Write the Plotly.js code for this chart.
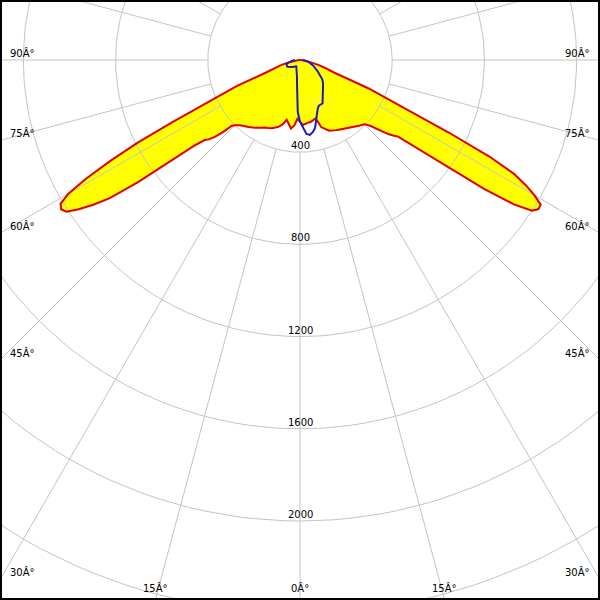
<!DOCTYPE html>
<html><head><meta charset="utf-8">
<script src="https://cdn.plot.ly/plotly-3.0.1.min.js"></script>
<style>html,body{margin:0;padding:0;background:#fff}#chart{width:600px;height:600px}</style>
</head><body><div id="chart"></div>
<script>
// gamma angles (degrees from nadir), one half-plane each
const gammaDeg = [0,2.5,5,7.5,10,12.5,15,17.5,20,22.5,25,27.5,30,32.5,35,37.5,40,42.5,45,
                  46,47,48,49,50,51,52,53,54,55,56,57,58,59,60,61,62,63,64,65,66,
                  67.5,70,72.5,75,77.5,80,82.5,85,87.5,90];
// red plane (yellow filled): left half and right half, cd
const redLeft  = [268,255,285,300,282,266,288,303,312,320,325,330,340,350,358,366,375,384,400,
                  410,460,500,525,540,590,720,880,1020,1095,1158,1208,1222,1212,1160,1060,930,790,620,470,380,
                  300,152,115,85,58,35,20,10,5,0];
const redRight = [268,282,278,274,272,268,262,305,318,332,338,343,348,353,358,365,375,385,395,
                  405,420,440,470,500,520,540,640,760,975,1120,1200,1220,1218,1175,1120,1050,920,720,540,420,
                  320,152,115,85,58,35,20,10,5,0];
// blue plane: left half and right half, cd
const blueLeft  = [268,225,150,100,75,60,50,44,40,37,35,33,32,32,33,35,37,40,43,
                   44,45,46,47,49,50,51,52,53,55,56,57,58,59,60,61,62,62,63,63,63,
                   64,64,62,58,52,45,38,32,27,22];
const blueRight = [268,292,322,328,318,302,272,245,225,214,213,212,200,186,174,164,155,148,141,
                   138,135,131,128,124,119,114,109,104,100,96,92,88,84,81,78,75,72,70,67,64,
                   61,55,49,42,36,30,24,19,15,12];
// grid
const ringValues = [400,800,1200,1600,2000,2400,2800];
const ringLabels = ['400','800','1200','1600','2000'];
const spokeAngles = [0,15,30,45,60,75,90,105,120,135,150,165,180,195,210,225,240,255,270,285,300,315,330,345];
const sideLabelAngles = [90,75,60,45,30];
const bottomLabelAngles = [15,0,-15];
const degSuffix = 'Â°';

const PX = 0.2305;              // pixels per cd
const XH = 300/PX, YT = 60/PX, YB = -540/PX;
const rad = d => d*Math.PI/180;

function planeXY(left, right){
  const x=[], y=[];
  for(let i=gammaDeg.length-1;i>=0;i--){ const t=rad(-gammaDeg[i]); x.push(-right[i]*Math.sin(t)); y.push(-right[i]*Math.cos(t)); }
  for(let i=1;i<gammaDeg.length;i++){ const t=rad(gammaDeg[i]); x.push(-left[i]*Math.sin(t)); y.push(-left[i]*Math.cos(t)); }
  return {x,y};
}
const red = planeXY(redLeft, redRight);
const blue = planeXY(blueLeft, blueRight);

const cx=[], cy=[];
ringValues.forEach(r=>{ for(let d=0; d<=360; d+=2){ cx.push(r*Math.cos(rad(d))); cy.push(r*Math.sin(rad(d))); } cx.push(null); cy.push(null); });
const sx=[], sy=[];
spokeAngles.forEach(a=>{ const t=rad(a); sx.push(-400*Math.sin(t), -3200*Math.sin(t), null); sy.push(-400*Math.cos(t), -3200*Math.cos(t), null); });

const gridColor = '#c4c4c4';
const traces = [
  {x:red.x, y:red.y, mode:'lines', fill:'toself', fillcolor:'#ffff00', line:{width:0, color:'rgba(0,0,0,0)'}, hoverinfo:'skip'},
  {x:cx, y:cy, mode:'lines', line:{color:gridColor, width:1}, hoverinfo:'skip'},
  {x:sx, y:sy, mode:'lines', line:{color:gridColor, width:1}, hoverinfo:'skip'},
  {x:red.x, y:red.y, mode:'lines', line:{color:'#e00000', width:2}, hoverinfo:'skip'},
  {x:blue.x, y:blue.y, mode:'lines', line:{color:'#1a1acc', width:2}, hoverinfo:'skip'}
];

const font = {family:'DejaVu Sans', size:10, color:'#000'};
const ann = [];
ringLabels.forEach(l=>{ ann.push({x:0, y:-Number(l), xref:'x', yref:'y', text:l, showarrow:false, xanchor:'center', yanchor:'middle', yshift:6.5, font}); });
sideLabelAngles.forEach(a=>{
  const yy = -XH*Math.cos(rad(a))/Math.sin(rad(a));
  ann.push({x:-XH, y:yy, xref:'x', yref:'y', text:a+degSuffix, showarrow:false, xanchor:'left', yanchor:'middle', xshift:8, yshift:7.5, font});
  ann.push({x:XH, y:yy, xref:'x', yref:'y', text:a+degSuffix, showarrow:false, xanchor:'right', yanchor:'middle', xshift:-8, yshift:7.5, font});
});
bottomLabelAngles.forEach(a=>{
  const xx = YB*Math.tan(rad(a));
  ann.push({x:xx, y:YB, xref:'x', yref:'y', text:Math.abs(a)+degSuffix, showarrow:false, xanchor:'center', yanchor:'middle', yshift:12, font});
});

const layout = {
  width:600, height:600, margin:{l:0,r:0,t:0,b:0},
  paper_bgcolor:'#fff', plot_bgcolor:'#fff', showlegend:false,
  xaxis:{range:[-XH, XH], visible:false, fixedrange:true},
  yaxis:{range:[YB, YT], visible:false, fixedrange:true},
  annotations:ann,
  shapes:[{type:'rect', xref:'paper', yref:'paper', x0:0, x1:1, y0:0, y1:1, line:{color:'#000', width:4}, layer:'above'}]
};
Plotly.newPlot('chart', traces, layout, {staticPlot:true, displayModeBar:false});
</script></body></html>
